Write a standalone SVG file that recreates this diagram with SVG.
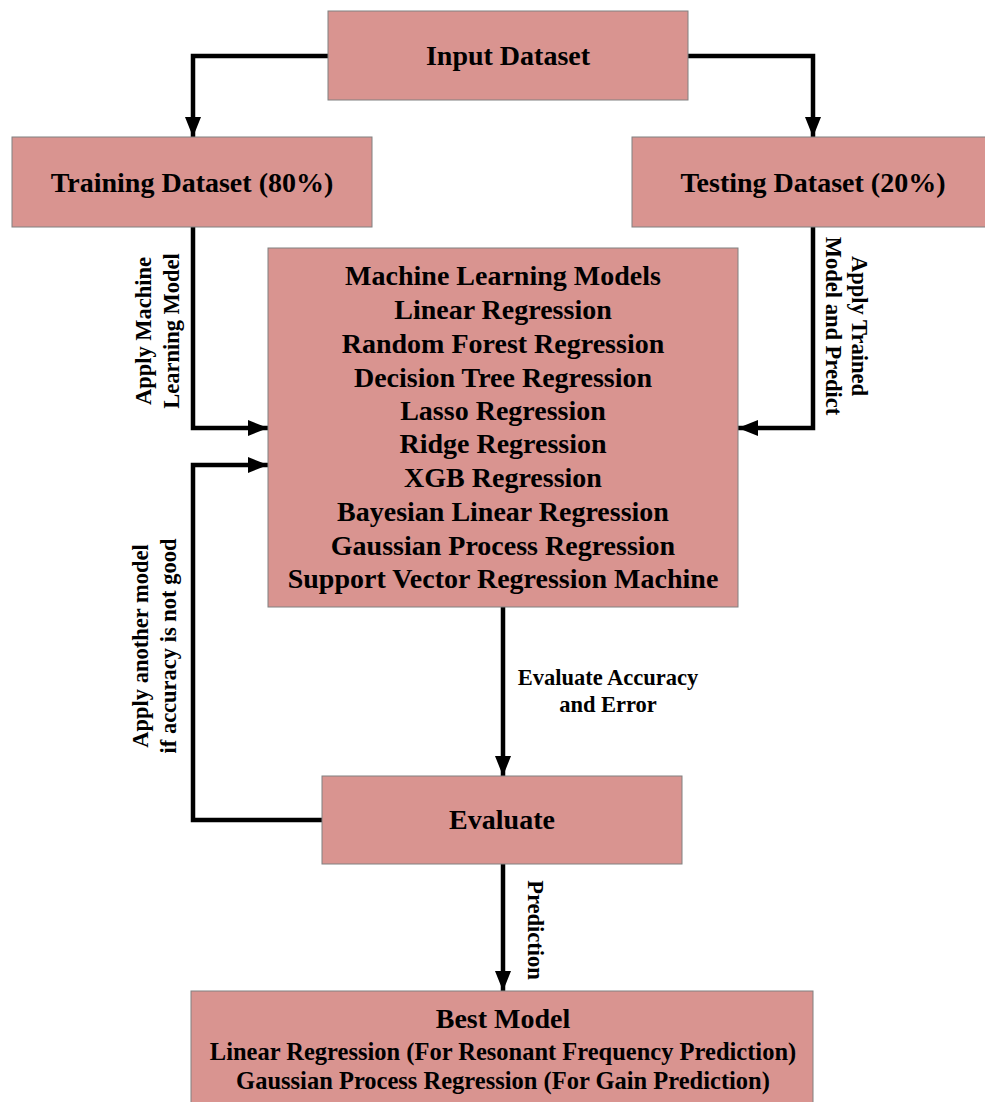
<svg xmlns="http://www.w3.org/2000/svg" width="985" height="1102" viewBox="0 0 985 1102">
<style>
.box{fill:#D99490;stroke:#808080;stroke-width:1}
.t{font-family:"Liberation Serif","Times New Roman",serif;font-weight:bold;fill:#000;text-anchor:middle}
.big{font-size:28px}
.mid{font-size:24.5px}
.lab{font-size:22.5px}
.c{fill:none;stroke:#000;stroke-width:4.5;stroke-linejoin:miter}
</style>
<defs>
<marker id="ah" markerUnits="userSpaceOnUse" viewBox="0 0 20 16" refX="20" refY="8" markerWidth="20" markerHeight="16" orient="auto">
<path d="M0,0 L20,8 L0,16 Z" fill="#000"/>
</marker>
</defs>
<rect width="985" height="1102" fill="#fff"/>
<g id="connectors">
<path class="c" d="M328,56 H193 V137" marker-end="url(#ah)"/>
<path class="c" d="M688,56 H813 V137" marker-end="url(#ah)"/>
<path class="c" d="M193,227 V428 H268" marker-end="url(#ah)"/>
<path class="c" d="M813,227 V428 H738" marker-end="url(#ah)"/>
<path class="c" d="M503,607 V776" marker-end="url(#ah)"/>
<path class="c" d="M322,820 H193 V465 H268" marker-end="url(#ah)"/>
<path class="c" d="M503,864 V991" marker-end="url(#ah)"/>
<text class="t lab" transform="translate(151,331) rotate(-90)">Apply Machine</text>
<text class="t lab" transform="translate(179,331) rotate(-90)">Learning Model</text>
<text class="t lab" transform="translate(852,326) rotate(90)">Apply Trained</text>
<text class="t lab" transform="translate(826,326) rotate(90)">Model and Predict</text>
<text class="t lab" x="608" y="685">Evaluate Accuracy</text>
<text class="t lab" x="608" y="712">and Error</text>
<text class="t lab" transform="translate(148,646) rotate(-90)">Apply another model</text>
<text class="t lab" transform="translate(176,646) rotate(-90)">if accuracy is not good</text>
<text class="t lab" transform="translate(528,930) rotate(90)">Prediction</text>
</g>
<g id="input">
<rect class="box" x="328" y="11" width="360" height="89"/>
<text class="t big" x="508" y="65">Input Dataset</text>
</g>
<g id="training">
<rect class="box" x="12" y="137" width="360" height="90"/>
<text class="t big" x="192" y="192">Training Dataset (80%)</text>
</g>
<g id="testing">
<rect class="box" x="632" y="137" width="362" height="90"/>
<text class="t big" x="813" y="192">Testing Dataset (20%)</text>
</g>
<g id="models">
<rect class="box" x="268" y="248" width="470" height="359"/>
<text class="t big" x="503" y="285">Machine Learning Models</text>
<text class="t big" x="503" y="319">Linear Regression</text>
<text class="t big" x="503" y="353">Random Forest Regression</text>
<text class="t big" x="503" y="387">Decision Tree Regression</text>
<text class="t big" x="503" y="420">Lasso Regression</text>
<text class="t big" x="503" y="453">Ridge Regression</text>
<text class="t big" x="503" y="487">XGB Regression</text>
<text class="t big" x="503" y="521">Bayesian Linear Regression</text>
<text class="t big" x="503" y="555">Gaussian Process Regression</text>
<text class="t big" x="503" y="588">Support Vector Regression Machine</text>
</g>
<g id="evaluate">
<rect class="box" x="322" y="776" width="360" height="88"/>
<text class="t big" x="502" y="829">Evaluate</text>
</g>
<g id="best">
<rect class="box" x="191" y="991" width="622" height="115"/>
<text class="t big" x="503" y="1028">Best Model</text>
<text class="t mid" x="503" y="1060">Linear Regression (For Resonant Frequency Prediction)</text>
<text class="t mid" x="503" y="1089">Gaussian Process Regression (For Gain Prediction)</text>
</g>
</svg>
